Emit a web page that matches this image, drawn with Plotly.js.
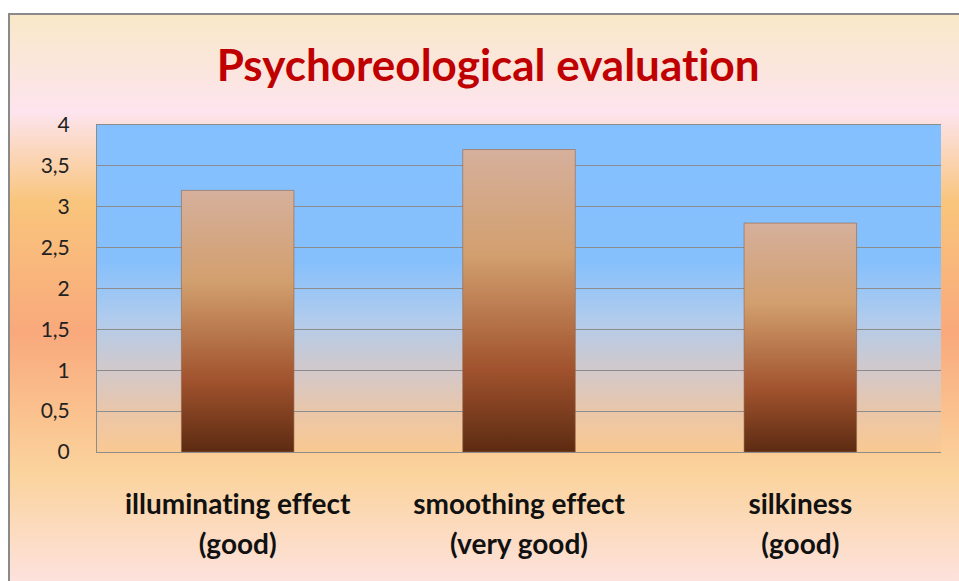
<!DOCTYPE html>
<html>
<head>
<meta charset="utf-8">
<script src="https://cdn.plot.ly/plotly-3.0.1.min.js"></script>
<style>
  html, body { margin: 0; padding: 0; background: #ffffff; width: 959px; height: 581px; overflow: hidden; }
  #frame {
    position: absolute; left: 8px; top: 13px; width: 1000px; height: 600px;
    border-top: 2px solid #8a8a8a; border-left: 2px solid #8a8a8a;
    background: linear-gradient(to bottom,
      #f9e8c8 0px, #fde4ee 97px, #f9c57c 187px, #f9a97c 317px, #fbd39c 457px, #fde2de 568px, #fde2de 600px);
  }
  #chart { position: absolute; left: 0; top: 0; width: 959px; height: 581px; }
  #chart text, #chart tspan { font-variant-ligatures: none !important; font-feature-settings: "liga" 0, "clig" 0, "calt" 0, "dlig" 0 !important; }
</style>
</head>
<body>
<div id="frame"></div>
<div id="chart"></div>
<script>
const categories = ['illuminating effect<br>(good)', 'smoothing effect<br>(very good)', 'silkiness<br>(good)'];
const values = [3.2, 3.7, 2.8];
const chartTitle = 'Psychoreological evaluation';

const trace = {
  type: 'bar',
  x: categories,
  y: values,
  marker: { color: '#a0522d', line: { color: 'rgba(150,100,70,0.6)', width: 1 } },
  hoverinfo: 'skip'
};

const layout = {
  width: 959, height: 581,
  margin: { l: 97, r: 18, t: 125, b: 129 },
  paper_bgcolor: 'rgba(0,0,0,0)',
  plot_bgcolor: '#85c1ff',
  separators: ', ',
  showlegend: false,
  bargap: 0.6,
  title: {
    text: chartTitle,
    font: { family: 'Lato', size: 44, color: '#c00000', weight: 'bold' },
    x: 0.509, xanchor: 'center',
    y: 1 - 66 / 581, yanchor: 'middle', yref: 'container'
  },
  xaxis: {
    showline: true, linecolor: '#8c8c8c', linewidth: 1, mirror: true,
    showgrid: false, ticks: '',
    tickfont: { family: 'Lato', size: 28, color: '#111111', weight: 'bold' },
    ticklabelstandoff: 27
  },
  yaxis: {
    range: [0, 4], dtick: 0.5, tick0: 0,
    showline: true, linecolor: '#8c8c8c', linewidth: 1,
    showgrid: true, gridcolor: '#8c8c8c', gridwidth: 1,
    zeroline: false, ticks: '',
    tickfont: { family: 'Lato', size: 21, color: '#222222' },
    ticklabelstandoff: 22
  }
};

function addGradients(gd) {
  const NS = 'http://www.w3.org/2000/svg';
  const svg = gd.querySelector('svg.main-svg');
  let defs = svg.querySelector('defs');
  if (!defs) { defs = document.createElementNS(NS, 'defs'); svg.insertBefore(defs, svg.firstChild); }
  function grad(id, stops) {
    const g = document.createElementNS(NS, 'linearGradient');
    g.setAttribute('id', id);
    g.setAttribute('x1', '0'); g.setAttribute('y1', '0');
    g.setAttribute('x2', '0'); g.setAttribute('y2', '1');
    stops.forEach(s => {
      const st = document.createElementNS(NS, 'stop');
      st.setAttribute('offset', s[0]);
      st.setAttribute('stop-color', s[1]);
      g.appendChild(st);
    });
    defs.appendChild(g);
  }
  grad('barGrad', [[0, '#d6b09c'], [0.35, '#d29f6e'], [0.73, '#a0522d'], [1, '#5c2b12']]);
  grad('plotGrad', [[0, '#84c0ff'], [0.42, '#86c0fc'], [0.6, '#b2ccec'], [0.76, '#d4c8c8'], [0.88, '#eac6a8'], [1, '#fac992']]);
  gd.querySelectorAll('.bars .point path').forEach(p => { p.style.fill = 'url(#barGrad)'; });
  let bg = gd.querySelector('.bglayer .bg');
  if (!bg && gd._fullLayout._plots && gd._fullLayout._plots.xy && gd._fullLayout._plots.xy.bg) bg = gd._fullLayout._plots.xy.bg.node();
  if (bg) bg.style.fill = 'url(#plotGrad)';
  gd.querySelectorAll('.xtick text').forEach(t => {
    const lines = t.querySelectorAll('tspan.line');
    lines.forEach((ln, i) => { if (i > 0) ln.setAttribute('dy', (i * 1.43) + 'em'); });
  });
  gd.querySelectorAll('text').forEach(t => {
    t.style.setProperty('font-variant-ligatures', 'none', 'important');
    t.style.setProperty('font-feature-settings', '"liga" 0, "clig" 0, "calt" 0, "dlig" 0', 'important');
  });
}

Plotly.newPlot('chart', [trace], layout, { staticPlot: true, displayModeBar: false }).then(addGradients);
</script>
</body>
</html>
